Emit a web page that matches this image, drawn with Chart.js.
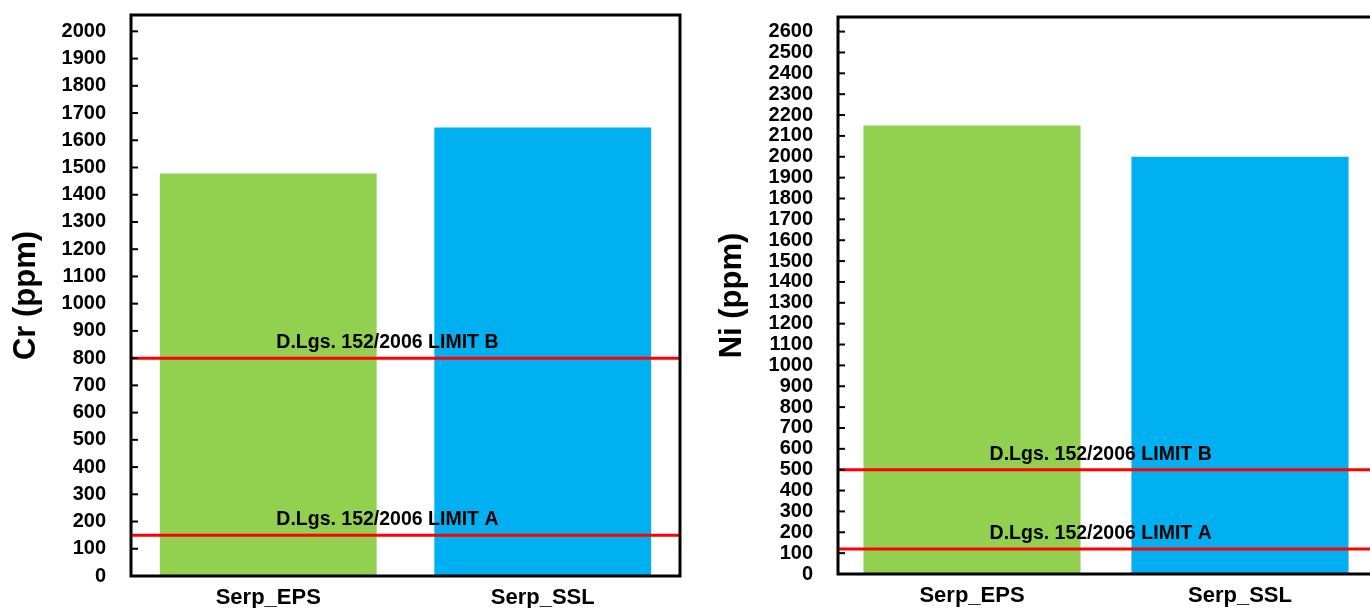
<!DOCTYPE html>
<html>
<head>
<meta charset="utf-8">
<script src="https://cdn.jsdelivr.net/npm/chart.js@4.4.1/dist/chart.umd.min.js"></script>
<style>
  html, body { margin: 0; padding: 0; background: #fff; }
  body { width: 1370px; height: 608px; overflow: hidden; position: relative; }
  .box { position: absolute; top: 0; height: 608px; }
  #crBox { left: 0; width: 690px; }
  #niBox { left: 690px; width: 700px; }
</style>
</head>
<body>
<div class="box" id="crBox"><canvas id="crChart"></canvas></div>
<div class="box" id="niBox"><canvas id="niChart"></canvas></div>
<script>
// Data
const samples = ['Serp_EPS', 'Serp_SSL'];
const crValues = [1478, 1647];
const niValues = [2150, 2000];
const crLimits = [150, 800];   // LIMIT A, LIMIT B
const niLimits = [120, 500];
const limitNames = ['D.Lgs. 152/2006 LIMIT A', 'D.Lgs. 152/2006 LIMIT B'];
const crTicks = [0, 100, 200, 300, 400, 500, 600, 700, 800, 900, 1000,
    1100, 1200, 1300, 1400, 1500, 1600, 1700, 1800, 1900, 2000];
const niTicks = [0, 100, 200, 300, 400, 500, 600, 700, 800, 900, 1000,
    1100, 1200, 1300, 1400, 1500, 1600, 1700, 1800, 1900, 2000,
    2100, 2200, 2300, 2400, 2500, 2600];
const barColors = ['#92D050', '#00B0F0'];

const fontFamily = "'Liberation Sans', Arial, sans-serif";

// Draws the limit lines with their labels, inward ticks and the box frame
const frameAndLimits = {
    id: 'frameAndLimits',
    afterDatasetsDraw(chart, args, opts) {
        const { ctx, chartArea: a, scales: { y } } = chart;
        ctx.save();
        opts.limits.forEach((v, i) => {
            const py = y.getPixelForValue(v);
            ctx.strokeStyle = '#ff0000';
            ctx.lineWidth = 3;
            ctx.beginPath();
            ctx.moveTo(a.left, py);
            ctx.lineTo(a.right, py);
            ctx.stroke();
            ctx.fillStyle = '#000';
            ctx.font = 'bold 19.5px ' + fontFamily;
            ctx.textAlign = 'center';
            ctx.textBaseline = 'alphabetic';
            ctx.fillText(limitNames[i], a.left + a.width * opts.labelPos, py - 10);
        });
        ctx.strokeStyle = '#000';
        ctx.lineWidth = 2;
        y.ticks.forEach(t => {
            const py = y.getPixelForValue(t.value);
            ctx.beginPath();
            ctx.moveTo(a.left, py);
            ctx.lineTo(a.left + 7, py);
            ctx.stroke();
        });
        ctx.lineWidth = 3;
        ctx.strokeRect(a.left, a.top, a.width, a.height);
        ctx.restore();
    }
};

function makeChart(id, values, limits, ticks, cfg) {
    return new Chart(document.getElementById(id), {
        type: 'bar',
        data: {
            labels: samples,
            datasets: [{
                data: values,
                backgroundColor: barColors,
                borderWidth: 0,
                barPercentage: cfg.barPct,
                categoryPercentage: 1
            }]
        },
        plugins: [frameAndLimits],
        options: {
            responsive: true,
            maintainAspectRatio: false,
            animation: false,
            layout: { padding: { top: cfg.top, right: cfg.right, left: 0, bottom: 0 } },
            plugins: {
                legend: { display: false },
                tooltip: { enabled: false },
                frameAndLimits: { limits: limits, labelPos: cfg.labelPos }
            },
            scales: {
                x: {
                    grid: { display: false, drawTicks: false },
                    border: { display: false },
                    ticks: { color: '#000', padding: 9, font: { family: fontFamily, size: 22, weight: 'bold' } },
                    afterFit: s => {
                        s.height = cfg.xHeight;
                        s.paddingLeft = 0;
                        s.paddingRight = 0;
                    }
                },
                y: {
                    min: 0,
                    max: cfg.max,
                    grid: { display: false, drawTicks: false },
                    border: { display: false },
                    ticks: {
                        autoSkip: false,
                        color: '#000',
                        padding: 25,
                        font: { family: fontFamily, size: 20, weight: 'bold' },
                        callback: v => String(v)
                    },
                    afterBuildTicks: s => { s.ticks = ticks.map(v => ({ value: v })); },
                    afterFit: s => {
                        s.width = cfg.yWidth;
                        s.paddingTop = 0;
                        s.paddingBottom = 0;
                    },
                    title: {
                        display: true,
                        text: cfg.title,
                        color: '#000',
                        padding: { top: cfg.titlePad, bottom: 0 },
                        font: { family: fontFamily, size: 31, weight: 'bold' }
                    }
                }
            }
        }
    });
}

makeChart('crChart', crValues, crLimits, crTicks, {
    max: 2060, top: 15, right: 10, xHeight: 32, yWidth: 131,
    barPct: 0.79, labelPos: 0.467, title: 'Cr (ppm)', titlePad: 8
});

makeChart('niChart', niValues, niLimits, niTicks, {
    max: 2670, top: 17, right: 16, xHeight: 34, yWidth: 148,
    barPct: 0.81, labelPos: 0.49, title: 'Ni (ppm)', titlePad: 24
});
</script>
</body>
</html>
